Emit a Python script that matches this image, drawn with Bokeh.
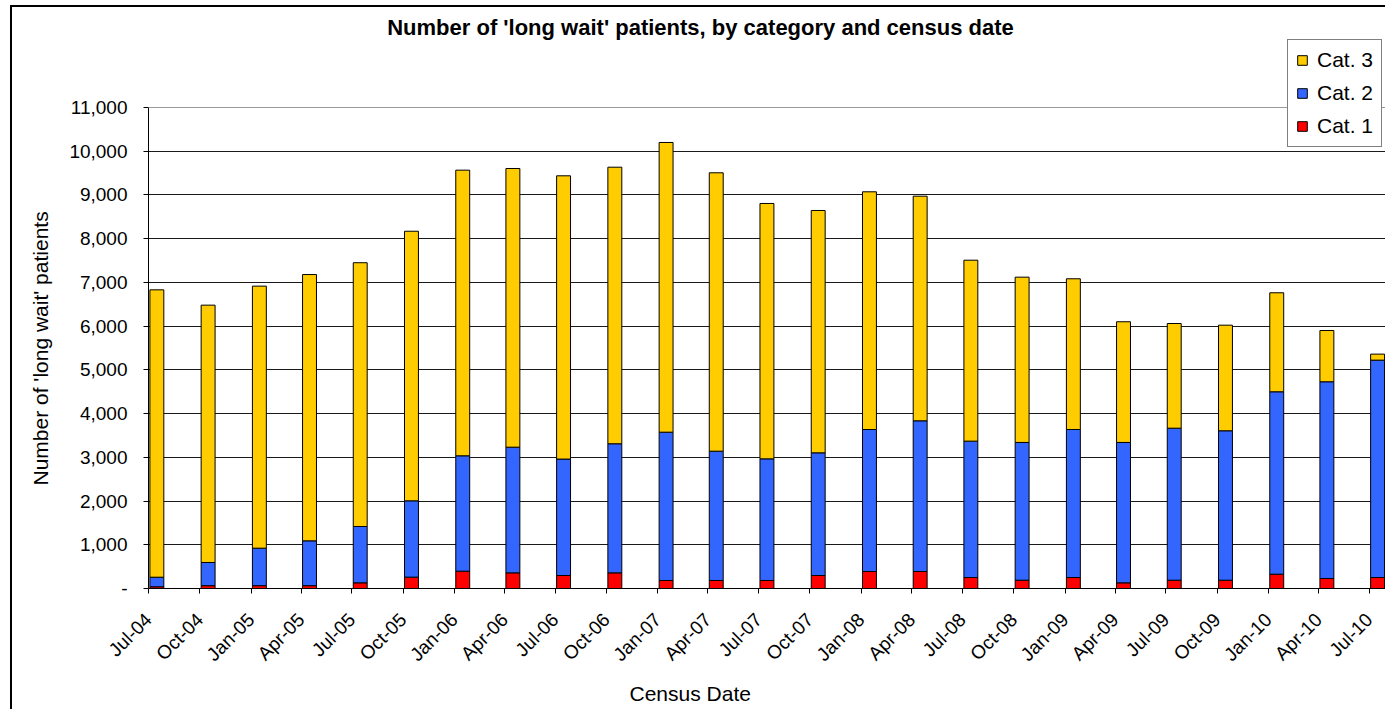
import math
import pandas as pd
from bokeh.plotting import figure
from bokeh.models import (ColumnDataSource, FixedTicker, NumeralTickFormatter,
                          DatetimeTickFormatter, Legend, LegendItem, Label, Range1d,
                          Span, Title)
from bokeh.embed import file_html
from bokeh.resources import INLINE

# Census dates (quarterly) and patient counts per category
census_dates = ["2004-07-01", "2004-10-01", "2005-01-01", "2005-04-01", "2005-07-01",
                "2005-10-01", "2006-01-01", "2006-04-01", "2006-07-01", "2006-10-01",
                "2007-01-01", "2007-04-01", "2007-07-01", "2007-10-01", "2008-01-01",
                "2008-04-01", "2008-07-01", "2008-10-01", "2009-01-01", "2009-04-01",
                "2009-07-01", "2009-10-01", "2010-01-01", "2010-04-01", "2010-07-01"]
cat1 = [40, 65, 65, 65, 130, 260, 396, 358, 297, 358, 183, 183, 183, 297, 389,
        389, 251, 190, 251, 130, 190, 190, 327, 229, 251]
cat2 = [218, 530, 857, 1025, 1288, 1745, 2639, 2874, 2663, 2952, 3392, 2957, 2782,
        2806, 3247, 3446, 3119, 3150, 3385, 3210, 3476, 3417, 4172, 4499, 4971]
cat3 = [6572, 5885, 5993, 6090, 6032, 6165, 6532, 6373, 6478, 6325, 6625, 6367, 5840,
        5542, 5436, 5137, 4138, 3780, 3447, 2760, 2394, 2415, 2264, 1172, 138]
y_ticks = list(range(0, 12000, 1000))
y_max = 11000

FONT = "Liberation Sans"

# canvas geometry (pixels)
W, H = 1375, 704
BORDER_L, BORDER_B, BORDER_R = 136, 123, 1
PLOT_AREA_H = 481          # height of the 0..y_max plot area
FRAME_H = H - BORDER_B     # frame reaches the top of the canvas so the legend fits

dates = pd.to_datetime(census_dates)
mid_month = dates + pd.Timedelta(days=15)
source = ColumnDataSource(dict(x=mid_month, cat1=cat1, cat2=cat2, cat3=cat3))

x_start = dates[0]
x_end = dates[-1] + pd.DateOffset(months=1)

p = figure(width=W, height=H, output_backend="svg", toolbar_location=None,
           x_axis_type="datetime",
           x_range=Range1d(x_start, x_end),
           y_range=Range1d(0, y_max * FRAME_H / PLOT_AREA_H),
           min_border_left=BORDER_L, min_border_right=BORDER_R, min_border_top=0,
           min_border_bottom=BORDER_B)
p.title.visible = False
p.styles = {"margin-left": "10px", "margin-top": "5px",
            "border-left": "2px solid black", "border-top": "2px solid black"}

p.background_fill_color = "white"
p.border_fill_color = "white"
p.outline_line_color = None

bar_width = pd.Timedelta(days=25).total_seconds() * 1000
renderers = p.vbar_stack(["cat1", "cat2", "cat3"], x="x", width=bar_width, source=source,
                         fill_color=["#FF0000", "#3366FF", "#FFCC00"],
                         line_color="black", line_width=1)

# plot-area border (top and right)
p.add_layout(Span(location=y_max, dimension="width", line_color="#9a9a9a", line_width=1))
p.segment(x0=[x_end], y0=[0], x1=[x_end], y1=[y_max], line_color="#9a9a9a", line_width=2)

# axes
p.xaxis.ticker = FixedTicker(ticks=[d.value // 10**6 for d in dates])
p.xaxis.formatter = DatetimeTickFormatter(days="%b-%y", months="%b-%y", years="%b-%y")
p.xaxis.major_label_orientation = math.pi / 4
p.xaxis.major_label_text_font = FONT
p.xaxis.major_label_text_font_size = "19px"
p.xaxis.major_label_text_color = "black"
p.xaxis.major_label_standoff = 23
p.xaxis.major_tick_out = 5
p.xaxis.major_tick_in = 0
p.xaxis.minor_tick_out = 0
p.xaxis.minor_tick_in = 0
p.xaxis.axis_line_color = "black"
p.xaxis.major_tick_line_color = "black"

p.yaxis.ticker = FixedTicker(ticks=y_ticks)
p.yaxis.bounds = (0, y_max)
p.yaxis.formatter = NumeralTickFormatter(format="0,0")
p.yaxis.major_label_overrides = {0: "-"}
p.yaxis.major_label_text_font = FONT
p.yaxis.major_label_text_font_size = "19px"
p.yaxis.major_label_text_color = "black"
p.yaxis.major_label_standoff = 16
p.yaxis.major_tick_out = 5
p.yaxis.major_tick_in = 0
p.yaxis.minor_tick_out = 0
p.yaxis.minor_tick_in = 0
p.yaxis.axis_line_color = "black"
p.yaxis.major_tick_line_color = "black"

p.xgrid.grid_line_color = None
p.ygrid.ticker = FixedTicker(ticks=y_ticks[1:-1])
p.ygrid.grid_line_color = "#1a1a1a"
p.ygrid.grid_line_width = 1

# chart title
p.add_layout(Label(x=552, y=FRAME_H - 20, x_units="screen", y_units="screen",
                   text="Number of 'long wait' patients, by category and census date",
                   text_font=FONT, text_font_size="22px", text_font_style="bold",
                   text_align="center", text_baseline="middle", text_color="black"))

# axis captions
p.add_layout(Title(text="Number of 'long wait' patients", align="left", offset=103,
                   standoff=29, text_font=FONT, text_font_size="21px",
                   text_font_style="normal", text_color="black"), "left")
p.add_layout(Title(text="Census Date", align="left", offset=481, standoff=9,
                   text_font=FONT, text_font_size="21px", text_font_style="normal",
                   text_color="black"), "below")

legend = Legend(items=[LegendItem(label="Cat. 3", renderers=[renderers[2]]),
                       LegendItem(label="Cat. 2", renderers=[renderers[1]]),
                       LegendItem(label="Cat. 1", renderers=[renderers[0]])],
                location=(1139, 441), orientation="vertical",
                label_text_font=FONT, label_text_font_size="21px",
                label_text_color="black", glyph_width=12, glyph_height=12,
                label_standoff=9, label_height=22, spacing=9, padding=8,
                border_line_color="black", border_line_width=1,
                background_fill_color="white", background_fill_alpha=1.0)
p.add_layout(legend, "center")

open("out.html", "w").write(file_html(p, INLINE))
